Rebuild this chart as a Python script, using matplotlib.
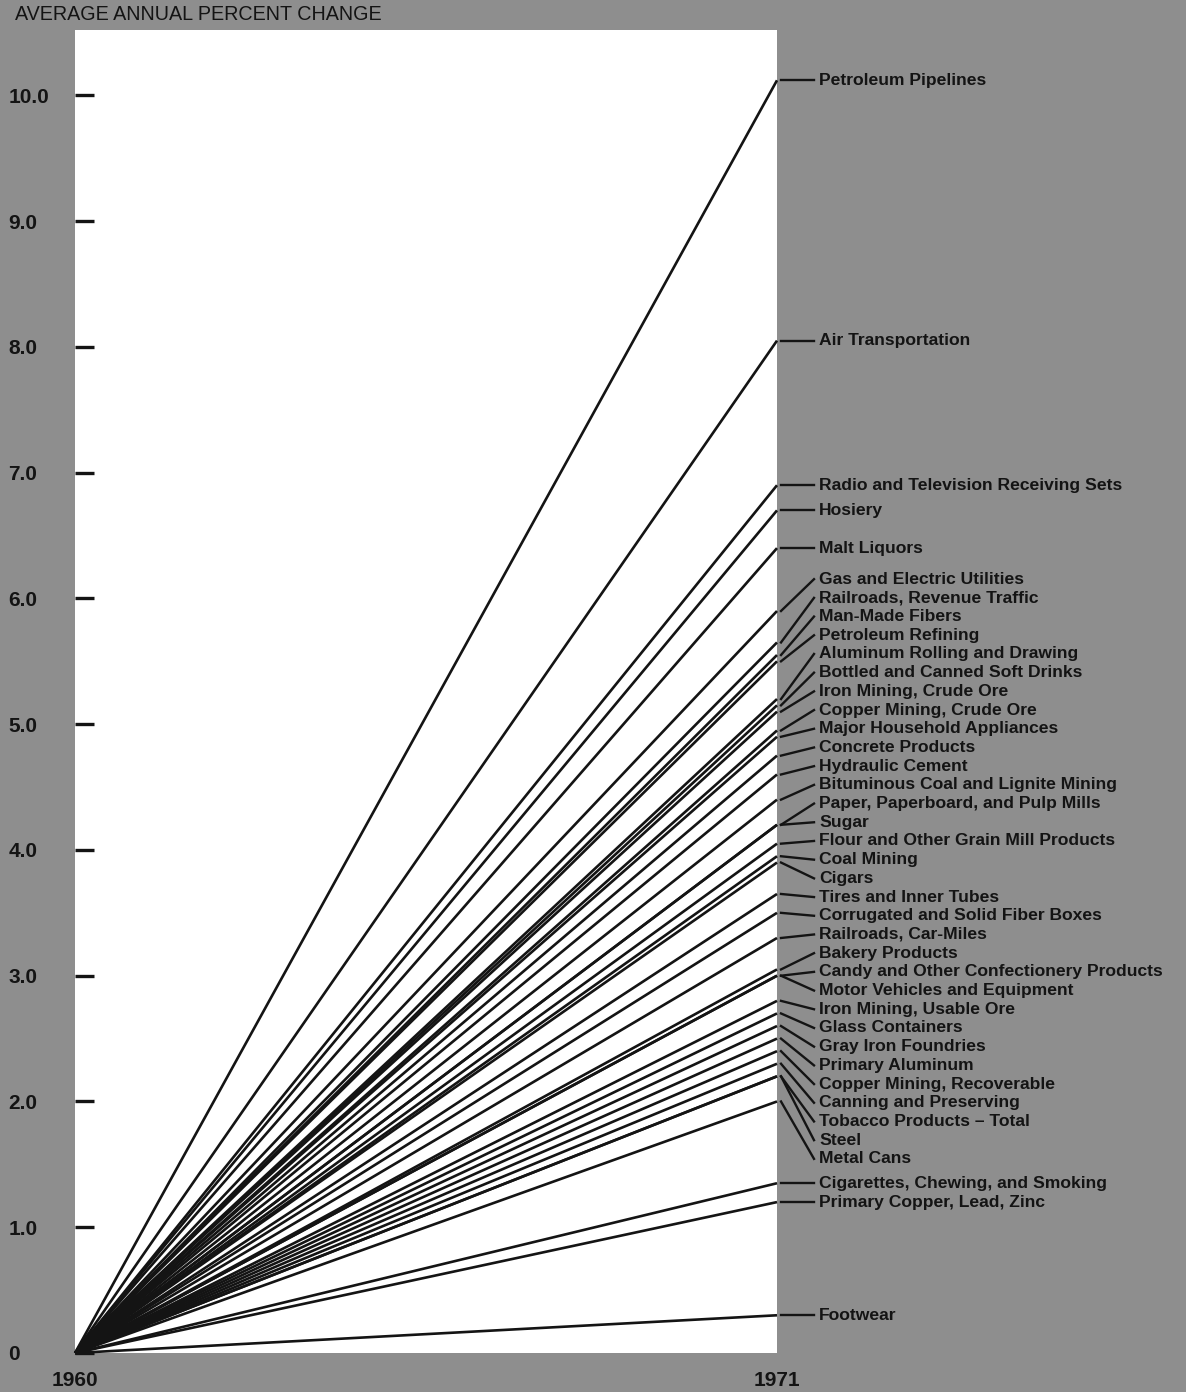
import matplotlib
matplotlib.use("Agg")
import matplotlib.pyplot as plt

# industries and their average annual percent change, 1960-1971
industries = [
    "Petroleum Pipelines", "Air Transportation",
    "Radio and Television Receiving Sets", "Hosiery", "Malt Liquors",
    "Gas and Electric Utilities", "Railroads, Revenue Traffic",
    "Man-Made Fibers", "Petroleum Refining", "Aluminum Rolling and Drawing",
    "Bottled and Canned Soft Drinks", "Iron Mining, Crude Ore",
    "Copper Mining, Crude Ore", "Major Household Appliances",
    "Concrete Products", "Hydraulic Cement",
    "Bituminous Coal and Lignite Mining", "Paper, Paperboard, and Pulp Mills",
    "Sugar", "Flour and Other Grain Mill Products", "Coal Mining", "Cigars",
    "Tires and Inner Tubes", "Corrugated and Solid Fiber Boxes",
    "Railroads, Car-Miles", "Bakery Products",
    "Candy and Other Confectionery Products", "Motor Vehicles and Equipment",
    "Iron Mining, Usable Ore", "Glass Containers", "Gray Iron Foundries",
    "Primary Aluminum", "Copper Mining, Recoverable", "Canning and Preserving",
    "Tobacco Products \u2013 Total", "Steel", "Metal Cans",
    "Cigarettes, Chewing, and Smoking", "Primary Copper, Lead, Zinc",
    "Footwear",
]
pct_change = [
    10.12, 8.05, 6.9, 6.7, 6.4, 5.9, 5.65, 5.55, 5.5, 5.2,
    5.15, 5.1, 4.95, 4.9, 4.75, 4.6, 4.4, 4.2, 4.2, 4.05,
    3.95, 3.9, 3.65, 3.5, 3.3, 3.05, 3.0, 3.0, 2.8, 2.7,
    2.6, 2.5, 2.4, 2.3, 2.2, 2.2, 2.0, 1.35, 1.2, 0.3,
]
years = [1960, 1971]
yticks = [0, 1, 2, 3, 4, 5, 6, 7, 8, 9, 10]
ytick_labels = ["0", "1.0", "2.0", "3.0", "4.0", "5.0", "6.0", "7.0", "8.0",
                "9.0", "10.0"]

BG = "#8e8e8e"
INK = "#141414"
plt.rcParams["font.family"] = ["Liberation Sans", "DejaVu Sans"]


def spread_labels(vals, gap):
    # push neighbouring labels apart until none overlap (vals sorted high->low)
    pos = list(vals)
    for _ in range(5000):
        moved = False
        for i in range(len(pos) - 1):
            d = pos[i] - pos[i + 1]
            if d < gap - 1e-6:
                s = (gap - d) / 2
                pos[i] += s
                pos[i + 1] -= s
                moved = True
        if not moved:
            break
    return pos


fig = plt.figure(figsize=(11.86, 13.92), dpi=100, facecolor=BG)
ax = fig.add_axes([75 / 1186, 39 / 1392, 702 / 1186, 1323 / 1392])
ax.set_facecolor("white")
ax.set_xlim(years[0], years[1])
ax.set_ylim(0, 10.52)
for s in ax.spines.values():
    s.set_visible(False)

for v in pct_change:
    ax.plot(years, [0, v], color=INK, lw=1.9, solid_capstyle="butt",
            clip_on=False)

# leaders and labels in the grey margin
yr_per_px = (years[1] - years[0]) / 702
unit_per_px = 10.52 / 1323
label_pos = spread_labels(pct_change, 18.7 * unit_per_px)
x0 = years[1] + 4 * yr_per_px
x1 = years[1] + 37 * yr_per_px
xt = years[1] + 42 * yr_per_px
for name, v, ly in zip(industries, pct_change, label_pos):
    ax.plot([x0, x1], [v, ly], color=INK, lw=1.7, clip_on=False)
    ax.text(xt, ly, name, ha="left", va="center", fontsize=12.6,
            fontweight="bold", color=INK, clip_on=False)

ax.set_yticks(yticks)
ax.set_yticklabels(ytick_labels)
ax.tick_params(axis="y", direction="in", length=14, width=2.4, color=INK,
               pad=48, labelsize=15, labelcolor=INK)
for t in ax.get_yticklabels():
    t.set_horizontalalignment("left")
    t.set_fontweight("bold")
ax.set_xticks(years)
ax.set_xticklabels([str(y) for y in years])
ax.tick_params(axis="x", length=0, pad=13, labelsize=15, labelcolor=INK)
for t in ax.get_xticklabels():
    t.set_fontweight("bold")

fig.text(15 / 1186, 1 - 15 / 1392, "AVERAGE ANNUAL PERCENT CHANGE",
         ha="left", va="center", fontsize=14.2, color=INK)

fig.savefig("out.png", dpi=100, facecolor=BG)
